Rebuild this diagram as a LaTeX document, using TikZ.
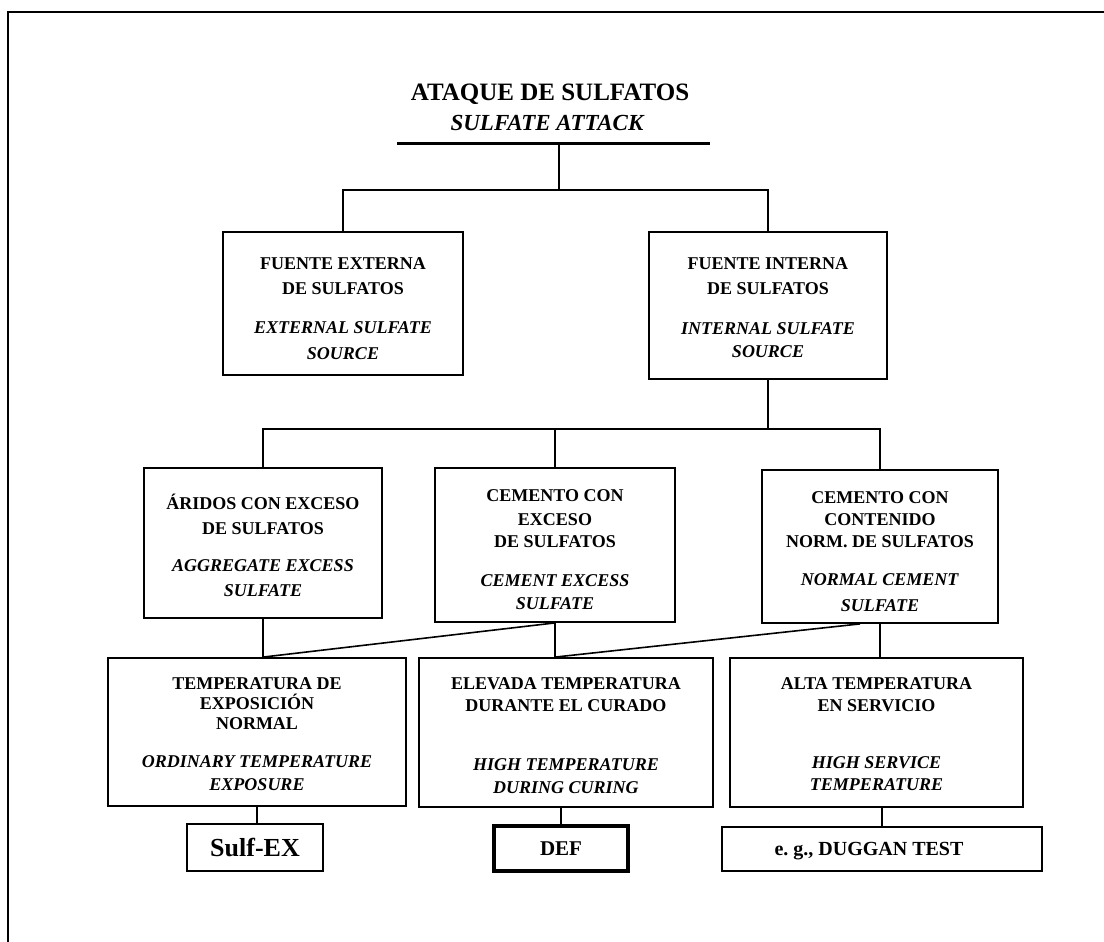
\documentclass[tikz,border=0pt]{standalone}
\usepackage{fontspec}
\setmainfont{Liberation Serif}
\usetikzlibrary{calc}
\newcommand\tp{\rule{0pt}{17pt}}
\begin{document}
\frenchspacing
\begin{tikzpicture}[x=1pt,y=-1pt,
  box/.style={draw, line width=1.8pt, inner sep=0pt},
  conn/.style={draw, line width=1.6pt},
  txt/.style={font=\fontsize{18}{22}\selectfont\bfseries, align=center, anchor=north, inner sep=0pt}]
\useasboundingbox (0,0) rectangle (1104,942);
\fill[white] (0,0) rectangle (1104,942);
% frame
\draw[line width=1.6pt] (8,942) -- (8,12) -- (1104,12);
% title
\node[font=\fontsize{25}{25}\selectfont\bfseries, anchor=base, inner sep=0pt] (title) at (550,100) {ATAQUE DE SULFATOS};
\node[font=\fontsize{23}{23}\selectfont\bfseries\itshape, anchor=base, inner sep=0pt] (subtitle) at (547,131) {SULFATE ATTACK};
\coordinate (barL) at (397,143);
\coordinate (barR) at (710,143);
\coordinate (barM) at (559,143);
\coordinate (j1) at (559,190);
\draw[line width=3pt] (barL) -- (barR);
% boxes
\node[box, minimum width=240pt, minimum height=143pt] (b1) at (343,303.5) {};
\node[box, minimum width=238pt, minimum height=147pt] (b2) at (768,305.5) {};
\node[box, minimum width=238pt, minimum height=150pt] (b3) at (263,543) {};
\node[box, minimum width=240pt, minimum height=154pt] (b4) at (555,545) {};
\node[box, minimum width=236pt, minimum height=153pt] (b5) at (880,546.5) {};
\node[box, minimum width=298pt, minimum height=148pt] (b6) at (257,732) {};
\node[box, minimum width=294pt, minimum height=149pt] (b7) at (566,732.5) {};
\node[box, minimum width=293pt, minimum height=149pt] (b8) at (876.5,732.5) {};
% texts
\node[txt] (t1) at (343,252) {\tp FUENTE EXTERNA\\[3pt]DE SULFATOS\\[17pt]\textit{EXTERNAL SULFATE}\\[4pt]\textit{SOURCE}};
\node[txt] (t2) at (768,252) {\tp FUENTE INTERNA\\[3pt]DE SULFATOS\\[18pt]\textit{INTERNAL SULFATE}\\[1pt]\textit{SOURCE}};
\node[txt] (t3) at (263,492) {\tp ÁRIDOS CON EXCESO\\[3pt]DE SULFATOS\\[15pt]\textit{AGGREGATE EXCESS}\\[3pt]\textit{SULFATE}};
\node[txt] (t4) at (555,484) {\tp CEMENTO CON\\[2pt]EXCESO\\DE SULFATOS\\[17pt]\textit{CEMENT EXCESS}\\[1pt]\textit{SULFATE}};
\node[txt] (t5) at (880,486) {\tp CEMENTO CON\\CONTENIDO\\NORM. DE SULFATOS\\[16pt]\textit{NORMAL CEMENT}\\[4pt]\textit{SULFATE}};
\node[txt] (t6) at (257,672) {\tp TEMPERATURA DE\\[-2pt]EXPOSICIÓN\\[-2pt]NORMAL\\[16pt]\textit{ORDINARY TEMPERATURE}\\[1pt]\textit{EXPOSURE}};
\node[txt] (t7) at (566,672) {\tp ELEVADA TEMPERATURA\\DURANTE EL CURADO\\[37pt]\textit{HIGH TEMPERATURE}\\[1pt]\textit{DURING CURING}};
\node[txt] (t8) at (876.5,672) {\tp ALTA TEMPERATURA\\EN SERVICIO\\[35pt]\textit{HIGH SERVICE}\\\textit{TEMPERATURE}};
% bottom boxes
\node[box, minimum width=136pt, minimum height=47pt, font=\fontsize{26}{26}\selectfont\bfseries, text height=17pt, text depth=0pt] (sx) at (255,847.5) {Sulf-EX};
\node[box, line width=4.5pt, minimum width=134pt, minimum height=45pt, font=\fontsize{21}{21}\selectfont\bfseries, text height=14pt, text depth=0pt] (def) at (561,848.5) {DEF};
\node[box, minimum width=320pt, minimum height=44pt, font=\fontsize{20}{20}\selectfont\bfseries, text height=13pt, text depth=0pt] (dg) at (882,849) {e. g., DUGGAN TEST\hspace*{26pt}};
% connectors
\draw[conn] (barM) -- (j1);
\draw[conn] (b1.north) |- (j1) -| (b2.north);
\path (b2.south) ++(0,49) coordinate (j2);
\draw[conn] (b2.south) -- (j2);
\draw[conn] (b3.north) |- (j2) -| (b5.north);
\draw[conn] (b4.north) -- (b4.north |- j2);
\draw[conn] (b3.south) -- (b3.south |- b6.north) coordinate (k6);
\draw[conn] (b4.south) -- (b4.south |- b7.north) coordinate (k7);
\draw[conn] (b4.south) -- (k6);
\draw[conn] (b5.south) -- (b5.south |- b8.north);
\draw[conn] ($(b5.south)+(-20,0)$) -- (k7);
\draw[conn] (b6.south) -- (b6.south |- sx.north);
\draw[conn] (def.north) -- (def.north |- b7.south);
\draw[conn] (dg.north) -- (dg.north |- b8.south);
\end{tikzpicture}
\end{document}
